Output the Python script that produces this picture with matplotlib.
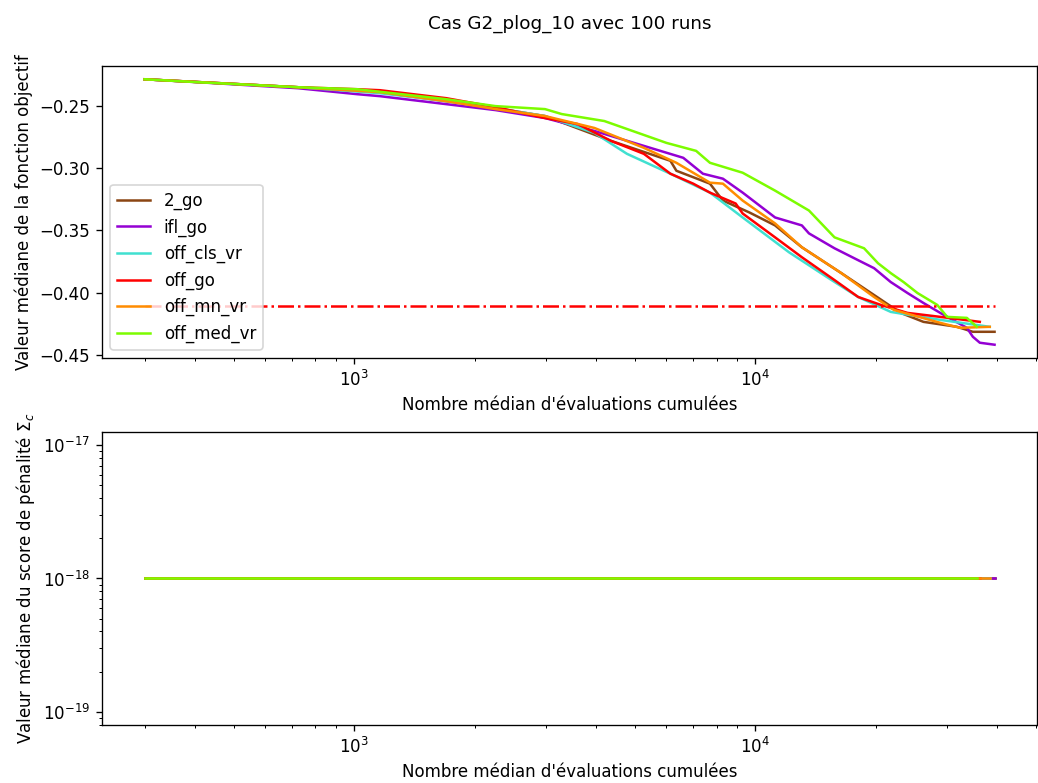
import matplotlib
matplotlib.use("Agg")
import matplotlib.pyplot as plt

labels = ['2_go', 'ifl_go', 'off_cls_vr', 'off_go', 'off_mn_vr', 'off_med_vr']
colors = ['saddlebrown', 'darkviolet', 'turquoise', 'red', 'darkorange', 'lawngreen']

x_2go = [300, 724, 1159, 1694, 2250, 2988, 4366, 6137, 6350, 7700, 8295, 9660, 11190,
         13050, 16370, 19750, 23010, 26220, 31790, 34820, 39440]
y_2go = [-0.2284, -0.2348, -0.2388, -0.246, -0.2516, -0.258, -0.278, -0.294, -0.302, -0.3124,
         -0.326, -0.3356, -0.346, -0.3636, -0.3844, -0.402, -0.4164, -0.4236, -0.4276, -0.4316, -0.4316]

x_ifl = [300, 410, 724, 1017, 1159, 1694, 2250, 2988, 3969, 5270, 6607, 7396, 8295, 9290,
         11190, 13050, 13590, 15740, 18030, 19750, 21740, 23930, 26220, 28880, 33640, 34820, 36240, 39440]
y_ifl = [-0.2284, -0.2308, -0.2356, -0.2404, -0.242, -0.2484, -0.2532, -0.2596, -0.27, -0.282,
         -0.2916, -0.3044, -0.3084, -0.3196, -0.3396, -0.346, -0.3524, -0.3644, -0.374, -0.3804,
         -0.3916, -0.4004, -0.4084, -0.4164, -0.4284, -0.4356, -0.4404, -0.442]

x_cls = [300, 724, 1159, 1694, 2250, 2988, 3969, 4783, 6137, 7700, 9290, 12120, 15480,
         18030, 21740, 28880, 38370]
y_cls = [-0.2284, -0.2348, -0.2396, -0.246, -0.2516, -0.258, -0.2716, -0.2884, -0.3044, -0.3196,
         -0.3396, -0.3676, -0.39, -0.4036, -0.4156, -0.422, -0.4276]

x_off = [300, 724, 1017, 1159, 1694, 2250, 2988, 3603, 4366, 5270, 6137, 6995, 7700, 8927,
         9290, 11190, 13050, 15740, 18030, 20550, 23930, 28880, 36240]
y_off = [-0.2284, -0.2348, -0.2364, -0.2372, -0.2436, -0.2508, -0.2596, -0.2644, -0.278, -0.2884,
         -0.3044, -0.3124, -0.3196, -0.3284, -0.3364, -0.3556, -0.3716, -0.39, -0.4036, -0.41,
         -0.4164, -0.4196, -0.4236]

x_mn = [300, 724, 1159, 1694, 2250, 2988, 3969, 5270, 6350, 7700, 8295, 9290, 11190, 13050,
        16370, 19750, 22130, 28880, 32340, 38370]
y_mn = [-0.2284, -0.2348, -0.2388, -0.246, -0.2524, -0.258, -0.2676, -0.2836, -0.2956, -0.3116,
        -0.3124, -0.326, -0.3444, -0.3636, -0.3844, -0.4036, -0.414, -0.4244, -0.4284, -0.4276]

x_med = [300, 410, 724, 1017, 1694, 2250, 2988, 3290, 4200, 6000, 7112, 7700, 9290, 11190,
         13590, 15740, 18650, 20200, 21740, 23400, 25340, 28390, 30050, 33640, 35620]
y_med = [-0.2284, -0.2308, -0.2348, -0.2364, -0.2444, -0.25, -0.2524, -0.2564, -0.262, -0.2796,
         -0.286, -0.2956, -0.3036, -0.318, -0.334, -0.3556, -0.3644, -0.3764, -0.3844, -0.3916,
         -0.4004, -0.41, -0.4196, -0.4204, -0.4276]

xs = [x_2go, x_ifl, x_cls, x_off, x_mn, x_med]
ys = [y_2go, y_ifl, y_cls, y_off, y_mn, y_med]

target = -0.4108
penalty = 1e-18

fig = plt.figure(figsize=(1038 / 120, 783 / 120), dpi=120)
ax1 = fig.add_axes([0.0983, 0.5428, 0.9008, 0.3729])
ax2 = fig.add_axes([0.0983, 0.0741, 0.9008, 0.3742])

for x, y, lab, c in zip(xs, ys, labels, colors):
    ax1.plot(x, y, color=c, label=lab)
    ax2.plot(x, [penalty] * len(x), color=c)

xmin = min(min(x) for x in xs)
xmax = max(max(x) for x in xs)
ax1.hlines(target, xmin, xmax, colors='red', linestyles='dashdot', lw=1.5)

ax1.set_xscale('log')
ax1.set_xlabel("Nombre médian d'évaluations cumulées")
ax1.set_ylabel('Valeur médiane de la fonction objectif')
ax1.legend(loc='lower left')

ax2.set_xscale('log')
ax2.set_yscale('log')
ax2.set_xlim(ax1.get_xlim())
ax2.set_xlabel("Nombre médian d'évaluations cumulées")
ax2.set_ylabel(r'Valeur médiane du score de pénalité $\Sigma_c$')

fig.text(569.5 / 1038, 1 - 24 / 783, 'Cas G2_plog_10 avec 100 runs',
         ha='center', va='center', fontsize=11)

fig.savefig('out.png', dpi=120)
